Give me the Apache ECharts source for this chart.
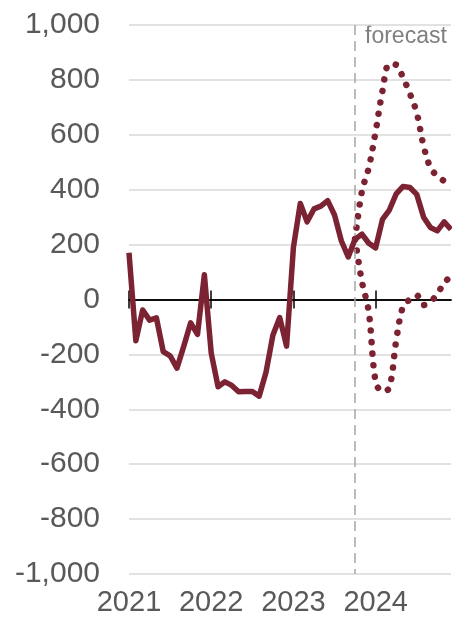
<!DOCTYPE html>
<html>
<head>
<meta charset="utf-8">
<script src="https://cdn.jsdelivr.net/npm/echarts@6/dist/echarts.min.js"></script>
<style>
  html, body { margin: 0; padding: 0; background: #fff; }
  #main { width: 452px; height: 628px; }
</style>
</head>
<body>
<div id="main"></div>
<script>
  // monthly, Jan 2021 .. Dec 2024
  const months = []
  for (let y = 2021; y <= 2024; y++) {
    for (let m = 1; m <= 12; m++) months.push(y + '-' + (m < 10 ? '0' + m : m))
  }

  const actual = [
    170, -150, -38, -75, -67, -190, -205, -250, -170, -85, -127, 90,
    -195, -318, -300, -313, -336, -335, -335, -352, -265, -130, -66, -170,
    190, 350, 283, 330, 340, 360, 308, 213, 155, 220, 238, 205,
    188, 292, 326, 385, 412, 408, 383, 300, 262, 250, 283, 255
  ]

  const upper = [
    null, null, null, null, null, null, null, null, null, null, null, null,
    null, null, null, null, null, null, null, null, null, null, null, null,
    null, null, null, null, null, null, null, null, null, 220, 395, 480,
    612, 760, 858, 855, 808, 750, 680, 560, 480, 450, 432, 420
  ]

  const lower = [
    null, null, null, null, null, null, null, null, null, null, null, null,
    null, null, null, null, null, null, null, null, null, null, null, null,
    null, null, null, null, null, null, null, null, null, 220, 65, -45,
    -300, -335, -322, -150, -25, 0, 15, -20, -8, 20, 60, 85
  ]

  const forecastStart = '2023-10'
  const yTicks = [-1000, 1000, 200]

  const red = '#7b2332'
  const grey = '#595959'
  const font = 'Liberation Sans, Arial, sans-serif'

  let chart = echarts.init(document.getElementById('main'))

  const zeroAxis = (pos) => ({
    type: 'category',
    data: months,
    position: pos,
    boundaryGap: false,
    axisLine: { show: true, onZero: true, onZeroAxisIndex: 0, lineStyle: { color: '#000', width: 1.5 } },
    axisTick: { show: true, interval: 11, length: 9, lineStyle: { color: '#000', width: 1.5 } },
    axisLabel: { show: false },
    splitLine: { show: false }
  })

  const dotted = { color: red, width: 6.5, type: [0.1, 11.5], cap: 'round' }

  let option = {
    animation: false,
    grid: { left: 129, right: 1, top: 25, bottom: 54 },
    graphic: [{
      type: 'text',
      left: 365,
      top: 25,
      style: { text: 'forecast', fontSize: 23, fontFamily: font, fill: '#7f7f7f' }
    }],
    xAxis: [
      {
        type: 'category',
        data: months,
        position: 'bottom',
        boundaryGap: false,
        axisLine: { show: false, onZero: false },
        axisTick: { show: false },
        axisLabel: {
          interval: 11,
          margin: 14,
          fontSize: 29,
          fontFamily: font,
          color: grey,
          formatter: v => v.slice(0, 4)
        },
        splitLine: { show: false }
      },
      zeroAxis('bottom'),
      zeroAxis('top')
    ],
    yAxis: {
      type: 'value',
      min: yTicks[0],
      max: yTicks[1],
      interval: yTicks[2],
      axisLine: { show: false },
      axisTick: { show: false },
      axisLabel: {
        margin: 29,
        fontSize: 30,
        fontFamily: font,
        color: grey,
        padding: [3, 0, 0, 0],
        formatter: v => (v < 0 ? '-' : '') + Math.abs(v).toLocaleString('en-US')
      },
      splitLine: { lineStyle: { color: '#d9d9d9', width: 1.5 } }
    },
    series: [
      {
        type: 'line',
        data: actual,
        symbol: 'none',
        lineStyle: { color: red, width: 5.5, join: 'round' },
        z: 5,
        markLine: {
          silent: true,
          symbol: 'none',
          label: { show: false },
          lineStyle: { color: '#a6a6a6', type: [10, 6], width: 1.5 },
          data: [[{ xAxis: forecastStart, yAxis: yTicks[1] }, { xAxis: forecastStart, yAxis: yTicks[0] }]]
        }
      },
      {
        type: 'line',
        data: upper,
        symbol: 'none',
        smooth: 0.35,
        lineStyle: dotted,
        z: 4
      },
      {
        type: 'line',
        data: lower,
        symbol: 'none',
        smooth: 0.35,
        lineStyle: dotted,
        z: 4
      }
    ]
  }

  chart.setOption(option)
</script>
</body>
</html>
